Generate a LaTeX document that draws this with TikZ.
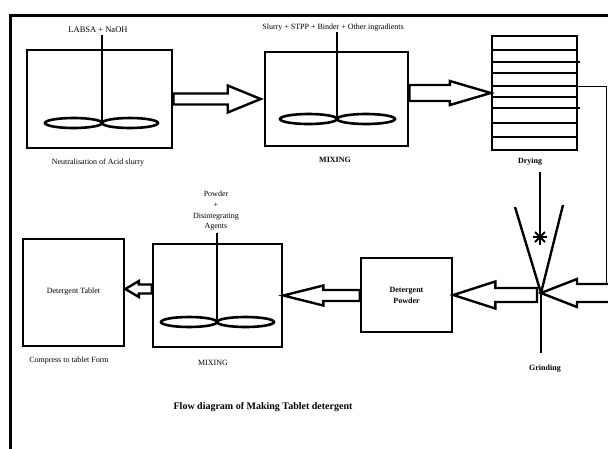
\documentclass[tikz,border=0pt]{standalone}
\usepackage{fontspec}
\setmainfont{Liberation Serif}
\usetikzlibrary{calc}
\tikzset{
  box/.style={draw, line width=2.6pt, inner sep=1pt, align=center, font=\fontsize{8}{10}\selectfont},
  lbl/.style={inner sep=0pt, align=center, font=\fontsize{8}{10.7}\selectfont},
  blbl/.style={lbl, font=\fontsize{8}{10}\selectfont\bfseries},
  blk/.style={draw, line width=2.4pt, line join=miter},
  stir/.style={line width=2.4pt},
  paddle/.style={line width=2.6pt},
  frame/.style={line width=3pt},
  thinline/.style={line width=1pt}
}
\newcommand\blkarrow[5]{%
  \draw[blk] let \p1=(#1), \p2=(#2), \p3=($(#2)!#5!(#1)$) in
   (\x1,\y2+#3) -- (\x3,\y2+#3) -- (\x3,\y2+#4) -- (\x2,\y2) -- (\x3,\y2-#4) -- (\x3,\y2-#3) -- (\x1,\y2-#3) -- cycle;}
\newcommand\mystirrer[4]{% hub, top, left rx, right rx
  \draw[stir] (#2) -- (#1);
  \draw[paddle] ($(#1)+(-#3,0)$) ellipse [x radius=#3, y radius=5];
  \draw[paddle] ($(#1)+(#4,0)$) ellipse [x radius=#4, y radius=5];}
\begin{document}
\begin{tikzpicture}[x=1pt,y=-1pt]
\clip (0,0) rectangle (608,448);
\fill[white] (0,0) rectangle (608,448);
% outer frame
\coordinate (fbl) at (10,449);
\coordinate (ftl) at (10,15);
\coordinate (ftr) at (609,15);
\draw[frame] (fbl) -- (ftl) -- (ftr);

% boxes
\node[box, minimum width=145pt, minimum height=98pt] (n1) at (99.5,99) {};
\node[box, minimum width=143pt, minimum height=94pt] (m1) at (336.5,99) {};
\node[box, minimum width=85pt, minimum height=114pt, line width=2.4pt] (dry) at (534.5,93) {};
\node[box, minimum width=91pt, minimum height=74pt, font=\fontsize{8}{11}\selectfont\bfseries] (pw) at (406.5,295) {Detergent\\Powder};
\node[box, minimum width=129pt, minimum height=103pt] (m2) at (217.5,295.5) {};
\node[box, minimum width=101pt, minimum height=107pt] (tb) at (73.5,292.5) {\raisebox{4pt}{Detergent Tablet}};

% drying trays
\foreach \yy/\xe in {50/577,62/580,73/577,86/577,97/577,108/580,123/577,137/577}{
  \draw[line width=2.2pt] (dry.west |- 0,\yy) -- (\xe,\yy);
}

% stirrers
\coordinate (h1) at (102,123); \coordinate (t1) at (102,35);
\mystirrer{h1}{t1}{28.5}{28}
\coordinate (h2) at (337,119); \coordinate (t2) at (337,32);
\mystirrer{h2}{t2}{28.5}{29}
\coordinate (h3) at (217,322); \coordinate (t3) at (217,233);
\mystirrer{h3}{t3}{28}{28.5}

% labels
\node[lbl, font=\fontsize{8.5}{10}\selectfont] (labsa) at (98,30) {LABSA + NaOH};
\node[lbl] (slurry) at (333,28) {Slurry + STPP + Binder + Other ingradients};
\node[lbl] (neut) at (98,163) {Neutralisation of Acid slurry};
\node[blbl] (mix1) at (335,160) {MIXING};
\node[blbl] (dryl) at (530,162) {Drying};
\node[blbl] (grl) at (545,369) {Grinding};
\node[lbl] (pdis) at (216,211) {Powder\\+\\Disintegrating\\Agents};
\node[lbl] (mix2) at (213,363) {MIXING};
\node[lbl] (comp) at (69,361) {Compress to tablet Form};
\node[lbl, font=\fontsize{10}{12}\selectfont\bfseries] (title) at (263,407) {Flow diagram of Making Tablet detergent};

% grinder
\coordinate (gv) at (541,293);
\coordinate (gl) at (515,207);
\coordinate (gr) at (563,205);
\coordinate (gb) at (541,353);
\draw[line width=2.4pt] (gl) -- (gv) -- (gr);
\draw[line width=2.4pt] (gv) -- (gb);
% feed from drying with asterisk
\coordinate (ft) at (540,172);
\coordinate (fe) at (540,245);
\coordinate (ast) at (540,237);
\draw[line width=2.4pt] (ft) -- (fe);
\draw[line width=1.8pt] ($(ast)+(-7,0)$) -- ($(ast)+(7,0)$);
\draw[line width=1.8pt] ($(ast)+(-5,-5)$) -- ($(ast)+(5,5)$);
\draw[line width=1.8pt] ($(ast)+(-5,5)$) -- ($(ast)+(5,-5)$);

% thin return connector
\coordinate (dr) at (577,86);
\coordinate (rc) at (606.5,86);
\coordinate (rb) at (606.5,285);
\draw[thinline] (dr) -- (rc) -- (rb);

% block arrows
\blkarrow{n1.east}{$(m1.west)+(-3,0)$}{5.5pt}{13.5pt}{33pt}
\blkarrow{m1.east}{dry.west}{8pt}{12pt}{41pt}
\coordinate (rin) at (625,293);
\blkarrow{rin}{gv}{9pt}{14pt}{36pt}
\coordinate (gvl) at (537,295);
\blkarrow{gvl}{pw.east}{7pt}{13.5pt}{42pt}
\blkarrow{pw.west}{m2.east}{5.5pt}{10pt}{40pt}
\blkarrow{m2.west}{$(tb.east)+(0,-3.5)$}{4.5pt}{8pt}{14pt}
\end{tikzpicture}
\end{document}
